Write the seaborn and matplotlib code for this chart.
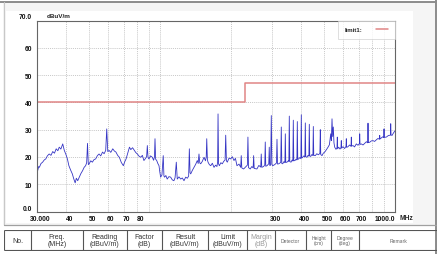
import numpy as np
import pandas as pd
import seaborn as sns
import matplotlib
matplotlib.use("Agg")
import matplotlib.pyplot as plt
import matplotlib.transforms as mtransforms
from matplotlib.lines import Line2D
from matplotlib.patches import Rectangle
from matplotlib.ticker import NullFormatter

# ---------------- data ----------------
freq_mhz = [
    30.2, 30.5, 30.7, 31.2, 31.7, 32.2, 32.7, 33.2, 33.8, 34.4,
    35.0, 35.6, 36.2, 36.8, 37.3, 37.9, 38.6, 39.2, 39.8, 40.4,
    41.0, 41.7, 42.4, 43.0, 43.6, 44.1, 44.7, 45.4, 46.1, 46.9,
    47.6, 48.3, 48.8, 49.2, 49.6, 50.0, 50.8, 51.6, 52.4, 53.3,
    54.2, 55.1, 56.0, 57.0, 57.9, 58.8, 59.4, 60.0, 60.8, 61.8,
    63.0, 64.0, 65.0, 66.1, 67.2, 68.5, 69.9, 70.8, 71.8, 73.0,
    74.2, 75.2, 76.5, 77.9,
    79.0, 80.2, 81.5, 82.9, 84.2, 85.5, 86.9, 87.8, 88.4, 89.0,
    89.8, 91.2, 92.8, 94.0, 94.8, 95.3, 95.9, 96.9, 98.0, 99.1,
    99.9, 100.7, 102.0, 103.3, 104.0, 104.7, 106.0, 107.4, 109.2, 111.1,
    112.9, 114.7, 116.0, 117.4, 118.5, 120.5, 122.6, 124.5, 126.6, 128.7,
    130.8, 132.5, 133.4, 134.3, 135.2, 137.4, 139.6, 141.9, 144.2, 145.5,
    146.6, 147.8, 149.1, 151.5, 154.0, 156.2, 157.4, 158.2, 159.2, 160.2,
    162.3, 164.5, 167.1, 169.9, 172.5, 174.8, 176.0, 176.7, 177.6, 179.0,
    181.6, 184.3, 186.8, 189.3, 190.5, 191.8, 193.5, 196.8, 200.0, 203.2,
    206.6, 209.5,
    212.7, 217.0, 220.6, 221.8, 223.0, 227.0, 232.0, 235.5, 236.8, 238.2,
    242.2, 246.0, 249.2, 250.4, 251.8, 258.6, 263.5, 268.4, 269.8, 271.2,
    276.2, 279.3, 280.6, 282.0, 285.3, 290.4, 291.8, 293.2, 295.9, 297.7,
    299.5, 301.9, 307.8, 313.2, 314.8, 316.5, 320.1, 326.6, 328.3, 330.0,
    332.8, 337.0, 340.1, 341.5, 343.0, 347.2, 351.5, 353.6, 355.1, 356.8,
    361.1, 365.0, 367.7, 369.3, 371.0, 375.5, 379.5, 382.5, 384.1, 385.8,
    389.4, 393.5, 397.7, 399.4, 401.1, 405.0, 409.5, 413.6, 415.4, 417.2,
    422.4, 426.5, 430.2, 432.0, 433.8, 437.9, 443.0, 447.5, 449.3, 451.2,
    458.2, 465.0, 472.0, 479.2, 481.2, 483.2, 489.3, 495.5,
    502.4, 510.0, 518.9, 526.0, 532.8, 536.0, 539.6, 543.0, 546.5, 550.0,
    554.0, 561.0, 566.5, 568.3, 570.2, 576.1, 583.5, 589.2, 591.0, 592.9,
    600.9, 610.5, 618.8, 620.7, 622.7, 631.1, 641.0, 650.0, 651.9, 653.9,
    662.8, 673.0, 684.5, 696.0, 705.5, 707.7, 709.9, 718.9, 731.0, 743.3,
    755.5, 765.4, 767.7, 770.0, 780.5, 793.0, 806.2, 819.0, 832.8, 846.5,
    858.3, 860.9, 863.5, 874.6, 886.0, 895.5, 898.0, 900.5, 918.5, 938.0,
    956.0, 958.9, 961.8, 971.2, 985.0, 998.0,
]
level_dbuv = [
    15.0, 16.5, 16.2, 17.6, 18.1, 18.9, 19.3, 20.4, 21.1, 20.6,
    22.0, 21.4, 23.0, 22.3, 23.6, 22.9, 24.8, 22.4, 21.0, 19.3,
    16.8, 15.2, 13.8, 12.0, 10.5, 12.2, 11.3, 12.6, 13.9, 15.0,
    16.2, 16.8, 17.9, 25.0, 17.2, 17.5, 18.6, 18.1, 19.0, 19.3,
    20.5, 21.1, 20.4, 21.8, 21.2, 22.4, 30.3, 22.0, 22.4, 21.7,
    23.0, 22.2, 21.8, 20.6, 19.9, 18.0, 16.8, 18.2, 19.3, 21.5,
    23.6, 22.7, 23.4, 22.4,
    21.6, 21.1, 20.3, 19.9, 20.6, 18.7, 19.5, 20.2, 24.2, 19.8,
    19.3, 20.4, 19.9, 18.8, 20.1, 26.7, 19.2, 18.7, 17.6, 16.8,
    14.5, 12.6, 13.4, 20.5, 13.0, 12.6, 13.2, 11.9, 12.8, 12.6,
    11.6, 11.3, 12.4, 18.1, 11.9, 12.7, 11.9, 12.3, 11.3, 12.6,
    12.2, 13.0, 23.0, 14.2, 13.8, 15.1, 16.2, 17.3, 18.7, 17.6,
    21.1, 17.8, 17.5, 18.4, 19.9, 18.6, 20.0, 26.7, 19.0, 18.1,
    17.2, 16.8, 17.7, 16.2, 17.0, 16.5, 18.2, 35.8, 17.5, 16.8,
    17.9, 17.5, 18.4, 18.9, 28.0, 18.6, 18.1, 19.6, 19.3, 20.1,
    18.7, 19.5,
    16.8, 17.4, 16.2, 20.5, 16.0, 15.6, 16.4, 17.0, 27.3, 16.1,
    15.6, 16.5, 16.0, 20.5, 15.8, 15.6, 16.9, 16.3, 21.1, 16.2,
    16.5, 17.1, 25.5, 16.6, 16.8, 17.5, 23.6, 16.9, 17.0, 35.2,
    17.3, 16.8, 17.2, 17.8, 26.5, 17.4, 17.5, 18.0, 31.0, 17.6,
    17.5, 18.3, 17.9, 28.5, 18.0, 18.1, 18.6, 18.4, 35.0, 18.3,
    18.1, 18.9, 18.5, 33.5, 18.6, 18.7, 19.2, 18.9, 33.0, 19.1,
    19.3, 19.8, 19.4, 35.5, 19.6, 19.9, 20.4, 20.0, 32.5, 20.1,
    19.9, 20.6, 20.3, 32.0, 20.4, 20.2, 20.9, 20.5, 31.2, 20.6,
    20.5, 21.2, 20.8, 21.3, 30.0, 20.9, 20.5, 21.4,
    21.8, 22.6, 23.6, 24.5, 28.5, 26.0, 34.0, 27.5, 31.0, 25.2,
    23.6, 22.8, 23.4, 27.3, 23.0, 23.6, 22.9, 23.5, 26.0, 23.2,
    23.8, 23.1, 23.9, 26.7, 23.5, 23.8, 24.4, 23.9, 27.3, 24.0,
    24.2, 23.7, 24.8, 24.3, 24.9, 28.5, 24.6, 24.8, 24.4, 25.0,
    25.6, 25.2, 32.4, 25.3, 25.4, 25.9, 26.0, 25.7, 26.3, 26.8,
    26.5, 27.9, 26.6, 27.0, 27.4, 27.1, 30.3, 27.2, 27.3, 27.9,
    28.0, 32.2, 28.1, 27.9, 28.8, 29.5,
]
limit_freq = [30, 230, 1000]
limit_level = [40, 47, 47]

x_tick_values = [30, 40, 50, 60, 70, 80, 300, 400, 500, 600, 700, 1000]
x_tick_labels = ["30.000", "40", "50", "60", "70", "80", "300", "400", "500", "600", "700", "1000.0"]
x_minor_grid = [90, 100, 200, 800, 900]
y_tick_values = [0, 10, 20, 30, 40, 50, 60, 70]
y_tick_labels = ["0.0", "10", "20", "30", "40", "50", "60", "70.0"]

table_headers = ["No.", "Freq.\n(MHz)", "Reading\n(dBuV/m)", "Factor\n(dB)", "Result\n(dBuV/m)",
                 "Limit\n(dBuV/m)", "Margin\n(dB)", "Detector", "Height\n(cm)", "Degree\n(deg)", "Remark"]

# ---------------- figure ----------------
sns.set_style("white")
plt.rcParams["font.family"] = ["Liberation Sans", "DejaVu Sans"]

W, H = 446, 255
fig = plt.figure(figsize=(W / 100, H / 100), dpi=100)
fig.patch.set_facecolor("white")


def fx(px):
    return px / W


def fy(py):
    return 1 - py / H


# window background
fig.patches.append(Rectangle((fx(3), fy(226)), fx(436) - fx(3), fy(3) - fy(226),
                             transform=fig.transFigure, facecolor="#f5f5f5", edgecolor="none", zorder=-20))
fig.patches.append(Rectangle((fx(6), fy(224)), fx(413) - fx(6), fy(12) - fy(224),
                             transform=fig.transFigure, facecolor="white", edgecolor="none", zorder=-10))
# frame lines
for (x0, y0, x1, y1, c, lw) in [(0, 3, 436, 3, "#8c8c8c", 1.4), (436, 0, 436, 255, "#8c8c8c", 1.4),
                                (4, 3, 4, 226, "#c8c8c8", 0.8), (4, 226, 436, 226, "#a0a0a0", 0.9)]:
    fig.add_artist(Line2D([fx(x0), fx(x1)], [fy(y0), fy(y1)], transform=fig.transFigure,
                          color=c, lw=lw, zorder=-5))

ax = fig.add_axes([fx(37), fy(212.5), fx(395) - fx(37), fy(21.7) - fy(212.5)])
ax.set_facecolor("white")
ax.set_zorder(5)

df_scan = pd.DataFrame({"freq": freq_mhz, "level": level_dbuv})
df_limit = pd.DataFrame({"freq": limit_freq, "limit": limit_level})

sns.lineplot(data=df_scan, x="freq", y="level", ax=ax, color="#3535c4", lw=0.6,
             estimator=None, sort=False, legend=False)
sns.lineplot(data=df_limit, x="freq", y="limit", ax=ax, color="#e08585", lw=1.1,
             drawstyle="steps-post", estimator=None, sort=False, label="limit1:")

ax.set_xscale("log")
ax.set_xlim(30, 1000)
ax.set_ylim(0, 70)
ax.set_xlabel("")
ax.set_ylabel("")

ax.set_xticks(x_tick_values)
ax.set_xticklabels(x_tick_labels)
ax.set_xticks(x_minor_grid, minor=True)
ax.xaxis.set_minor_formatter(NullFormatter())
ax.set_yticks(y_tick_values)
ax.set_yticklabels(y_tick_labels)
ax.tick_params(axis="both", which="both", length=0, labelsize=4.8, colors="#111111")
ax.tick_params(axis="x", pad=2.6)
ax.tick_params(axis="y", pad=3.6)
for lab in ax.get_xticklabels() + ax.get_yticklabels():
    lab.set_fontweight("bold")

ax.grid(True, which="both", axis="x", color="#b4b4b4", lw=0.5, linestyle=(0, (1.5, 1.5)))
ax.grid(True, which="major", axis="y", color="#b4b4b4", lw=0.5, linestyle=(0, (1.5, 1.5)))

for sp in ax.spines.values():
    sp.set_visible(True)
    sp.set_color("#666666")
    sp.set_linewidth(0.8)

# tick label offsets
xlabels = ax.get_xticklabels()
shift_r = mtransforms.ScaledTranslation(3 / 100, 0, fig.dpi_scale_trans)
for lab in xlabels[:-1]:
    lab.set_transform(lab.get_transform() + shift_r)
xlabels[-1].set_ha("right")
ylabels = ax.get_yticklabels()
ylabels[-1].set_transform(ylabels[-1].get_transform() + mtransforms.ScaledTranslation(0, 5 / 100, fig.dpi_scale_trans))
ylabels[0].set_transform(ylabels[0].get_transform() + mtransforms.ScaledTranslation(0, 4 / 100, fig.dpi_scale_trans))

leg = ax.legend(loc="upper right", bbox_to_anchor=(1, 1), borderaxespad=0, markerfirst=False,
                prop={"weight": "bold", "size": 4.3}, frameon=True, fancybox=False,
                edgecolor="#d0d0d0", handlelength=2.0, handletextpad=2.4, borderpad=1.1)
leg.get_frame().set_linewidth(0.6)

fig.text(fx(399), fy(218.5), "MHz", ha="left", va="center", fontsize=4.8, weight="bold")
fig.text(fx(47), fy(16), "dBuV/m", ha="left", va="center", fontsize=4.6, weight="bold", color="#222222")

# ---------------- table ----------------
col_edges = [4, 31, 83, 127, 162, 208, 247, 275, 306, 331, 359, 437]
tax = fig.add_axes([fx(4), fy(251.5), fx(437) - fx(4), fy(231) - fy(251.5)])
tax.set_xlim(4, 437)
tax.set_ylim(251.5, 231)
tax.axis("off")
tax.hlines([231.4, 251.1], 4, 437, color="#555555", lw=0.8)
tax.vlines(col_edges, 231.4, 251.1, color="#555555", lw=0.8)
for i, txt in enumerate(table_headers):
    cx = (col_edges[i] + col_edges[i + 1]) / 2
    if i < 6:
        tax.text(cx, 241.3, txt, ha="center", va="center", fontsize=5.0, color="#333333",
                 linespacing=1.05)
    elif i == 6:
        tax.text(cx, 241.3, txt, ha="center", va="center", fontsize=5.0, color="#9a9a9a",
                 linespacing=1.05)
    else:
        tax.text(cx, 241.3, txt, ha="center", va="center", fontsize=3.6, color="#666666",
                 linespacing=1.05)

fig.savefig("out.png", dpi=100, facecolor=fig.get_facecolor())
